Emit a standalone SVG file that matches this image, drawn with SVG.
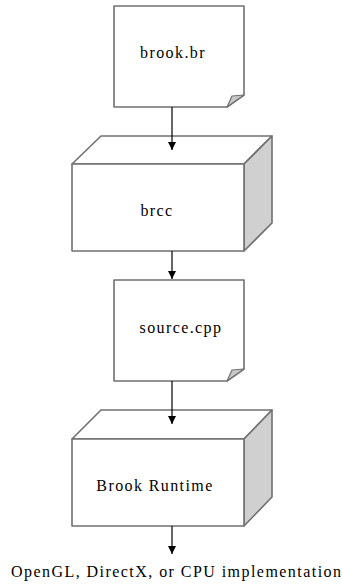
<svg xmlns="http://www.w3.org/2000/svg" width="342" height="585" viewBox="0 0 342 585">
<defs>
<style>
.shape{fill:#fff;stroke:#707070;stroke-width:1.6;stroke-linejoin:round}
.side{fill:#d0d0d0;stroke:#707070;stroke-width:1.6;stroke-linejoin:round}
.fold{fill:#c8c8c8;stroke:#707070;stroke-width:1.2;stroke-linejoin:round}
.lbl{font-size:16px;fill:#000;letter-spacing:1.4px}
.conn{stroke:#000;stroke-width:1.2;fill:none}
</style>
<marker id="arr" markerWidth="10" markerHeight="10" refX="9" refY="5" orient="auto" markerUnits="userSpaceOnUse">
<path d="M1,1 L9,5 L1,9 Z" fill="#000"/>
</marker>
</defs>
<rect width="342" height="585" fill="#fff"/>
<g id="brook-br">
<path class="shape" d="M114,6 H244 V95 L227,107 H114 Z"/>
<path class="fold" d="M227,107 L232,96 L244,95 Z"/>
<text class="lbl" font-family="'Liberation Serif', 'DejaVu Serif', serif" x="173" y="58" text-anchor="middle">brook.br</text>
</g>
<g id="brcc">
<path class="shape" d="M72,164 L101,136 H272 L244,164 Z"/>
<path class="side" d="M244,164 L272,136 V223 L244,251 Z"/>
<rect class="shape" x="72" y="164" width="172" height="87"/>
<text class="lbl" font-family="'Liberation Serif', 'DejaVu Serif', serif" x="157" y="216" text-anchor="middle">brcc</text>
</g>
<g id="source-cpp">
<path class="shape" d="M114,280 H244 V369 L227,381 H114 Z"/>
<path class="fold" d="M227,381 L232,370 L244,369 Z"/>
<text class="lbl" font-family="'Liberation Serif', 'DejaVu Serif', serif" x="181" y="333" text-anchor="middle">source.cpp</text>
</g>
<g id="brook-runtime">
<path class="shape" d="M72,439 L101,410 H272 L244,439 Z"/>
<path class="side" d="M244,439 L272,410 V497 L244,526 Z"/>
<rect class="shape" x="72" y="439" width="172" height="87"/>
<text class="lbl" font-family="'Liberation Serif', 'DejaVu Serif', serif" x="155" y="491" text-anchor="middle">Brook Runtime</text>
</g>
<g id="output">
<text class="lbl" font-family="'Liberation Serif', 'DejaVu Serif', serif" x="11" y="577" textLength="330" lengthAdjust="spacing" style="letter-spacing:0">OpenGL, DirectX, or CPU implementation</text>
</g>
<g id="connectors">
<line class="conn" x1="172" y1="107" x2="172" y2="150" marker-end="url(#arr)"/>
<line class="conn" x1="172" y1="251" x2="172" y2="279" marker-end="url(#arr)"/>
<line class="conn" x1="172" y1="381" x2="172" y2="424" marker-end="url(#arr)"/>
<line class="conn" x1="172" y1="526" x2="172" y2="554" marker-end="url(#arr)"/>
</g>
</svg>
